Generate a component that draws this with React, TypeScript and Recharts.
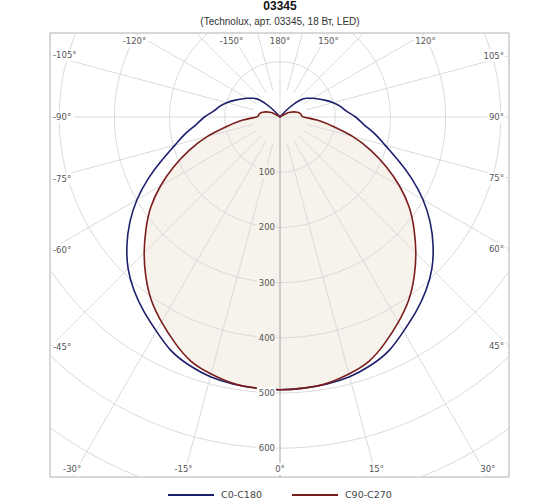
import { Legend, ReferenceArea, Scatter, ScatterChart, XAxis, YAxis } from 'recharts'

const TITLE = '03345'
const SUBTITLE = '(Technolux, арт. 03345, 18 Вт, LED)'

// gamma angles (deg) for the half-planes below
const GAMMA = [0, 5, 10, 15, 20, 25, 30, 35, 40, 45, 50, 55, 60, 65, 70, 75, 80, 85, 90,
  95, 100, 105, 110, 115, 120, 125, 130, 135, 140, 145, 150, 155, 160, 165, 170, 175, 180]

// luminous intensity, cd
const C0 = [494, 493, 491, 487, 479, 467, 448, 430, 411, 389, 362, 332, 299, 263, 227, 197, 174, 152, 137,
  121, 111, 100, 88, 77, 68, 59, 48, 25, 3, 0, 0, 0, 0, 0, 0, 0, 0]
const C180 = [494, 493, 491, 487, 479, 467, 448, 430, 411, 389, 362, 332, 299, 263, 227, 197, 174, 152, 137,
  121, 111, 100, 88, 77, 68, 59, 48, 25, 3, 0, 0, 0, 0, 0, 0, 0, 0]
const C90 = [494, 493, 490, 482, 471, 451, 429, 406, 378, 348, 317, 286, 250, 212, 174, 136, 97, 69, 43,
  39, 37, 33, 27, 20, 12, 4, 0, 0, 0, 0, 0, 0, 0, 0, 0, 0, 0]
const C270 = [494, 493, 490, 482, 471, 451, 429, 406, 378, 348, 317, 286, 250, 212, 174, 136, 97, 69, 43,
  39, 37, 33, 27, 20, 12, 4, 0, 0, 0, 0, 0, 0, 0, 0, 0, 0, 0]

const RINGS = [100, 200, 300, 400, 500, 600, 700]
const RING_LABELS = [100, 200, 300, 400, 500, 600]
const RAYS = [-165, -150, -135, -120, -105, -90, -75, -60, -45, -30, -15, 0,
  15, 30, 45, 60, 75, 90, 105, 120, 135, 150, 165, 180]
const ANGLE_LABELS = [-150, -120, -105, -90, -75, -60, -45, -30, -15, 0,
  15, 30, 45, 60, 75, 90, 105, 120, 150, 180]

const SERIES_NAMES = ['C0-C180', 'C90-C270']

const BLUE = '#1c1f6b'
const RED = '#7a1c1c'
const BEIGE = '#f7f3ec'
const GRID = '#dadada'

// layout (page pixels)
const W = 560
const H = 504
const PLOT = { left: 50, top: 33, right: 509, bottom: 477 }
const CX = 280
const CY = 117
const PX_PER_CD = 0.552
const X_DOMAIN = [-(CX - PLOT.left) / PX_PER_CD, (PLOT.right - CX) / PX_PER_CD]
const Y_DOMAIN = [-(PLOT.bottom - CY) / PX_PER_CD, (CY - PLOT.top) / PX_PER_CD]

function polar(theta: number, r: number) {
  const a = (theta * Math.PI) / 180
  return { x: r * Math.sin(a), y: -r * Math.cos(a) }
}

// closed curve from -180 to 180, repeated points at the centre dropped
function curve(left: number[], right: number[]) {
  const l = GAMMA.map((g, i) => polar(-g, left[i])).reverse()
  const r = GAMMA.map((g, i) => polar(g, right[i])).slice(1)
  const all = [...l, ...r]
  return all.filter((p, i) => i === 0 || Math.hypot(p.x - all[i - 1].x, p.y - all[i - 1].y) > 1e-6)
}

const bluePts = curve(C180, C0)
const redPts = curve(C270, C90)

const ringPts = RINGS.map((r) => {
  const pts = []
  for (let a = 0; a <= 360; a += 2) pts.push(polar(a, r))
  return pts
})

const rayPts = RAYS.map((a) => [polar(a, a % 90 === 0 ? 0 : 50), polar(a, 1200)])

function edgeHit(theta: number) {
  const d = polar(theta, 1)
  const hits: Array<[number, string]> = []
  if (d.x > 1e-9) hits.push([X_DOMAIN[1] / d.x, 'right'])
  if (d.x < -1e-9) hits.push([X_DOMAIN[0] / d.x, 'left'])
  if (d.y > 1e-9) hits.push([Y_DOMAIN[1] / d.y, 'top'])
  if (d.y < -1e-9) hits.push([Y_DOMAIN[0] / d.y, 'bottom'])
  const [t, side] = hits.reduce((a, b) => (b[0] < a[0] ? b : a))
  return { x: d.x * t, y: d.y * t, side }
}

const angleLabelPts = ANGLE_LABELS.map((a) => ({ ...edgeHit(a), text: `${a}°` }))
const ringLabelPts = RING_LABELS.map((r) => ({ ...polar(0, r), text: String(r), bg: r <= 400 ? BEIGE : '#fff' }))

const FONT = '"DejaVu Sans", sans-serif'
const noDot = () => <g />

function AngleTick(props: any) {
  const { cx, cy, payload } = props
  const { text, side } = payload
  let tx = cx
  let ty = cy
  let anchor: 'start' | 'middle' | 'end' = 'middle'
  if (side === 'left') { tx = cx + 3; anchor = 'start' }
  if (side === 'right') { tx = cx - 5; anchor = 'end' }
  if (side === 'top') ty = cy + 8
  if (side === 'bottom') ty = cy - 8
  const w = text.length * 4.9 + 3
  const rx = anchor === 'start' ? tx - 1 : anchor === 'end' ? tx - w + 1 : tx - w / 2
  return (
    <g>
      <rect x={rx} y={ty - 6} width={w} height={12} fill="#fff" />
      <text x={tx} y={ty} dy="0.35em" textAnchor={anchor} fontSize={8.5} fill="#555" fontFamily={FONT}>{text}</text>
    </g>
  )
}

function RingTick(props: any) {
  const { cx, cy, payload } = props
  const w = payload.text.length * 5.4 + 3
  return (
    <g>
      <rect x={cx - 5 - w + 1} y={cy - 6} width={w} height={12} fill={payload.bg} />
      <text x={cx - 5} y={cy} dy="0.35em" textAnchor="end" fontSize={8.5} fill="#555" fontFamily={FONT}>{payload.text}</text>
    </g>
  )
}

function LegendContent({ payload }: any) {
  const items = (payload || []).filter((p: any) => p.type !== 'none' && SERIES_NAMES.includes(p.value))
  return (
    <div style={{ display: 'flex', justifyContent: 'center', gap: 30, fontFamily: FONT, fontSize: 9.5, lineHeight: '14px', color: '#444' }}>
      {items.map((p: any) => (
        <span key={p.value} style={{ display: 'flex', alignItems: 'center' }}>
          <svg width={46} height={4}><line x1={0} y1={2} x2={46} y2={2} stroke={p.color} strokeWidth={2} /></svg>
          <span style={{ marginLeft: 7 }}>{p.value}</span>
        </span>
      ))}
    </div>
  )
}

export default function App() {
  return (
    <div style={{ position: 'absolute', left: 0, top: 0, width: W, height: H, background: '#fff' }}>
      <div style={{ position: 'absolute', top: 0, width: W, textAlign: 'center', fontFamily: '"Liberation Sans", sans-serif', fontWeight: 'bold', fontSize: 12, lineHeight: '13px', color: '#111' }}>
        {TITLE}
      </div>
      <div style={{ position: 'absolute', top: 16, width: W, textAlign: 'center', fontFamily: '"Liberation Sans", sans-serif', fontSize: 10, lineHeight: '12px', color: '#333' }}>
        {SUBTITLE}
      </div>
      <ScatterChart
        width={W}
        height={H}
        margin={{ left: PLOT.left, top: PLOT.top, right: W - PLOT.right, bottom: H - PLOT.bottom }}
        style={{ position: 'absolute', left: 0, top: 0 }}
      >
        <XAxis type="number" dataKey="x" domain={X_DOMAIN} allowDataOverflow hide />
        <YAxis type="number" dataKey="y" domain={Y_DOMAIN} allowDataOverflow hide />
        <Scatter data={redPts} fill={BEIGE} line={{ fill: BEIGE, stroke: 'none' }} lineJointType="natural" shape={noDot} legendType="none" isAnimationActive={false} />
        {ringPts.map((pts, i) => (
          <Scatter key={`ring${i}`} data={pts} fill={GRID} line={{ strokeWidth: 1 }} shape={noDot} legendType="none" isAnimationActive={false} />
        ))}
        {rayPts.map((pts, i) => (
          <Scatter key={`ray${i}`} data={pts} fill={RAYS[i] === 0 ? '#a8a8a8' : GRID} line={{ strokeWidth: 1 }} shape={noDot} legendType="none" isAnimationActive={false} />
        ))}
        <Scatter name={SERIES_NAMES[0]} data={bluePts} fill={BLUE} line={{ strokeWidth: 1.6 }} lineJointType="natural" shape={noDot} isAnimationActive={false} />
        <Scatter name={SERIES_NAMES[1]} data={redPts} fill={RED} line={{ strokeWidth: 1.6 }} lineJointType="natural" shape={noDot} isAnimationActive={false} />
        <Scatter data={ringLabelPts} fill="#555" shape={RingTick} legendType="none" isAnimationActive={false} />
        <Scatter data={angleLabelPts} fill="#555" shape={AngleTick} legendType="none" isAnimationActive={false} />
        <ReferenceArea x1={X_DOMAIN[0]} x2={X_DOMAIN[1]} y1={Y_DOMAIN[0]} y2={Y_DOMAIN[1]} fill="none" fillOpacity={0} stroke="#b0b0b0" strokeWidth={1} ifOverflow="visible" />
        <Legend layout="horizontal" verticalAlign="middle" align="center" content={LegendContent} wrapperStyle={{ top: 488, left: 0, width: W }} />
      </ScatterChart>
    </div>
  )
}
